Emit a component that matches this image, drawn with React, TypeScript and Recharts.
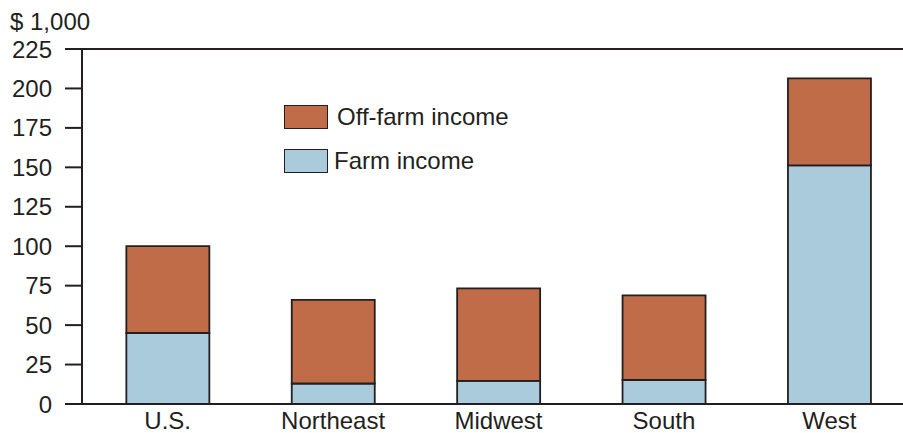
import { BarChart, Bar, XAxis, YAxis, ReferenceLine, Legend } from "recharts";

const regions = ["U.S.", "Northeast", "Midwest", "South", "West"];
const farmIncome = [45, 13, 14.6, 15.2, 151.3];
const offFarmIncome = [55, 53, 58.7, 53.7, 55.1];
const yTicks = [0, 25, 50, 75, 100, 125, 150, 175, 200, 225];

const FONT = '"Liberation Sans", Arial, Helvetica, sans-serif';
const INK = "#231f20";
const ORANGE = "#c06c48";
const BLUE = "#aacbdc";

const data = regions.map((region, i) => ({
  region,
  farm: farmIncome[i],
  offFarm: offFarmIncome[i],
}));

const legendItems = [
  { label: "Off-farm income", color: ORANGE, gap: 9 },
  { label: "Farm income", color: BLUE, gap: 6 },
];

function IncomeLegend() {
  return (
    <div style={{ fontFamily: FONT, fontSize: 24, color: INK }}>
      {legendItems.map((it) => (
        <div key={it.label} style={{ display: "flex", alignItems: "center", height: 25, marginBottom: 19 }}>
          <span
            style={{
              display: "inline-block",
              width: 42,
              height: 22,
              background: it.color,
              border: `1.5px solid ${INK}`,
              marginRight: it.gap,
            }}
          />
          <span>{it.label}</span>
        </div>
      ))}
    </div>
  );
}

export default function App() {
  return (
    <div
      style={{
        position: "absolute",
        left: 0,
        top: 0,
        width: 903,
        height: 433,
        overflow: "hidden",
        fontFamily: FONT,
        background: "#fff",
      }}
    >
      <div style={{ position: "absolute", left: 10, top: 8, fontSize: 24, color: INK, whiteSpace: "nowrap" }}>
        $ 1,000
      </div>
      <BarChart
        width={930}
        height={433}
        data={data}
        margin={{ top: 49, right: 18, bottom: 0, left: 0 }}
        barCategoryGap="25%"
      >
        <YAxis
          width={82}
          domain={[0, 225]}
          ticks={yTicks}
          interval={0}
          tickSize={17}
          tickMargin={13}
          axisLine={{ stroke: INK, strokeWidth: 2 }}
          tickLine={{ stroke: INK, strokeWidth: 2 }}
          tick={{ fill: INK, fontSize: 24, fontFamily: FONT }}
        />
        <XAxis
          dataKey="region"
          height={29}
          padding={{ left: 3, right: 0 }}
          tickLine={false}
          tickSize={0}
          tickMargin={8}
          axisLine={{ stroke: INK, strokeWidth: 2 }}
          tick={{ fill: INK, fontSize: 24, fontFamily: FONT }}
        />
        <ReferenceLine y={225} stroke={INK} strokeWidth={2} />
        <Bar dataKey="farm" stackId="a" fill={BLUE} stroke={INK} strokeWidth={1.8} isAnimationActive={false} />
        <Bar dataKey="offFarm" stackId="a" fill={ORANGE} stroke={INK} strokeWidth={1.8} isAnimationActive={false} />
        <Legend
          layout="vertical"
          align="center"
          verticalAlign="middle"
          content={() => <IncomeLegend />}
          wrapperStyle={{ position: "absolute", left: 284, top: 104, width: "auto", height: "auto" }}
        />
      </BarChart>
    </div>
  );
}
